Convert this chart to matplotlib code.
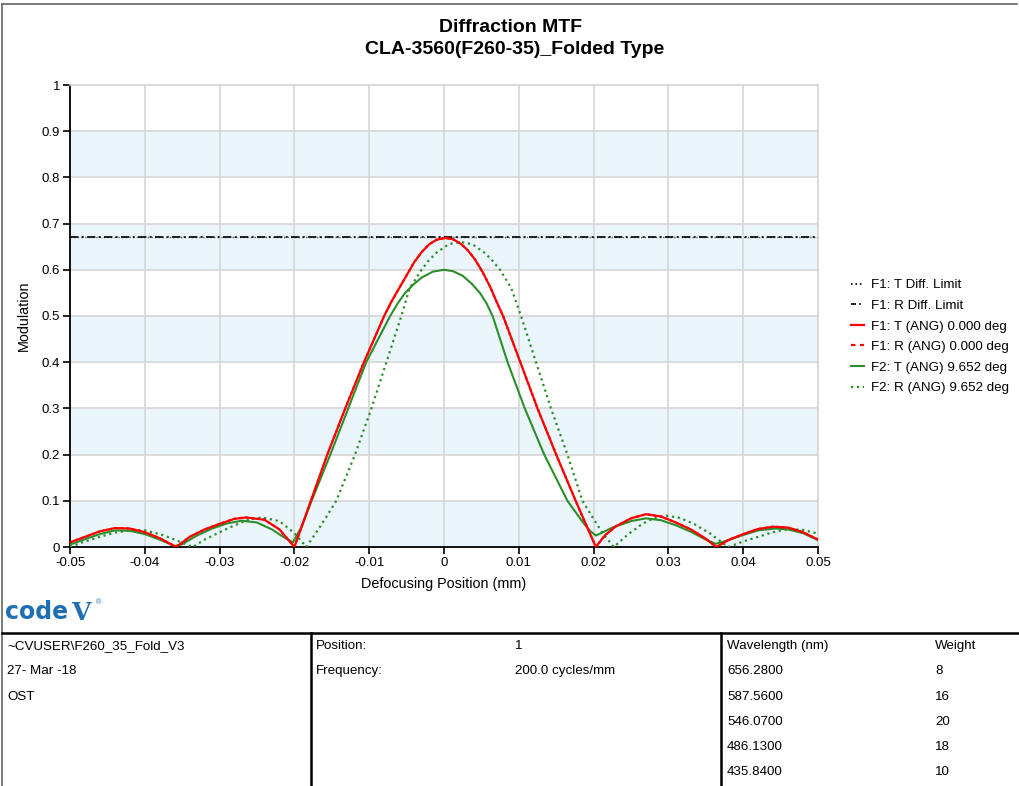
import matplotlib.pyplot as plt
import matplotlib.lines as mlines

plt.rcParams['font.family'] = ['Liberation Sans', 'DejaVu Sans']

#* chart data
titleLines = ["Diffraction MTF", "CLA-3560(F260-35)_Folded Type"]

diffLimitX = [-0.05, 0.05]
diffLimitT = [0.672, 0.672]
diffLimitR = [0.672, 0.672]

f1X = [-0.050, -0.048, -0.046, -0.044, -0.042, -0.040, -0.038, -0.0358,
       -0.034, -0.032, -0.030, -0.028, -0.0265, -0.024, -0.022, -0.0200,
       -0.0178, -0.0156, -0.0132, -0.0107, -0.0080, -0.0070, -0.0060,
       -0.0050, -0.0040, -0.0030, -0.0020, -0.0010, 0.0002, 0.0012, 0.0022,
       0.0032, 0.0042, 0.0052, 0.0062, 0.0070, 0.0079,
       0.0102, 0.0125, 0.0150, 0.0176, 0.0203, 0.0215, 0.0230, 0.0250,
       0.0270, 0.0290, 0.0310, 0.0330, 0.0350, 0.0364, 0.0380, 0.0400,
       0.0420, 0.0440, 0.0460, 0.0480, 0.0500]
f1T = [0.010, 0.022, 0.034, 0.041, 0.040, 0.032, 0.019, 0.000,
       0.022, 0.038, 0.050, 0.061, 0.064, 0.059, 0.038, 0.000,
       0.100, 0.200, 0.300, 0.400, 0.500, 0.532, 0.560,
       0.588, 0.616, 0.638, 0.655, 0.665, 0.669, 0.666, 0.657,
       0.642, 0.621, 0.594, 0.562, 0.532, 0.500,
       0.400, 0.300, 0.200, 0.100, 0.000, 0.025, 0.045, 0.062,
       0.071, 0.066, 0.053, 0.038, 0.018, 0.000, 0.015, 0.028,
       0.039, 0.044, 0.042, 0.032, 0.016]
f1R = [0.010, 0.022, 0.034, 0.041, 0.040, 0.032, 0.019, 0.000,
       0.022, 0.038, 0.050, 0.061, 0.064, 0.059, 0.038, 0.000,
       0.100, 0.200, 0.300, 0.400, 0.500, 0.532, 0.560,
       0.588, 0.616, 0.638, 0.655, 0.665, 0.669, 0.666, 0.657,
       0.642, 0.621, 0.594, 0.562, 0.532, 0.500,
       0.400, 0.300, 0.200, 0.100, 0.000, 0.025, 0.045, 0.062,
       0.071, 0.066, 0.053, 0.038, 0.018, 0.000, 0.015, 0.028,
       0.039, 0.044, 0.042, 0.032, 0.016]

f2TX = [-0.050, -0.048, -0.046, -0.044, -0.042, -0.040, -0.038, -0.036,
        -0.035, -0.033, -0.031, -0.029, -0.027, -0.025, -0.023, -0.0215,
        -0.0202, -0.0190, -0.0177, -0.0152, -0.0128, -0.0104, -0.0072,
        -0.0062, -0.0052, -0.0041, -0.0030, -0.0015, 0.0000, 0.0012, 0.0025,
        0.0037, 0.0048, 0.0057, 0.0065, 0.0085, 0.0108,
        0.0134, 0.0165, 0.0185, 0.0195, 0.0203, 0.0210, 0.0225, 0.0250,
        0.0270, 0.0290, 0.0310, 0.0330, 0.0350, 0.0363, 0.0375, 0.0400,
        0.0420, 0.0443, 0.0460, 0.0480, 0.0500]
f2T = [0.005, 0.017, 0.028, 0.036, 0.035, 0.028, 0.016, 0.002,
       0.006, 0.025, 0.040, 0.051, 0.057, 0.053, 0.038, 0.022,
       0.010, 0.045, 0.100, 0.200, 0.300, 0.400, 0.500,
       0.527, 0.550, 0.568, 0.583, 0.596, 0.600, 0.597, 0.587,
       0.570, 0.550, 0.527, 0.500, 0.400, 0.300,
       0.200, 0.100, 0.055, 0.035, 0.025, 0.030, 0.042, 0.056,
       0.062, 0.058, 0.047, 0.033, 0.016, 0.007, 0.012, 0.026,
       0.036, 0.040, 0.038, 0.030, 0.015]

f2RX = [-0.050, -0.048, -0.046, -0.044, -0.042, -0.040, -0.038, -0.036,
        -0.0336, -0.032, -0.030, -0.028, -0.026, -0.0243, -0.022, -0.020,
        -0.0184, -0.0164, -0.0144, -0.0119, -0.0097, -0.0077, -0.0057,
        -0.0046, -0.0030, -0.0020, -0.0010, 0.0005, 0.0013, 0.0022, 0.0031,
        0.0040, 0.0055, 0.0064, 0.0075, 0.0090, 0.0103,
        0.0123, 0.0143, 0.0165, 0.0185, 0.0198, 0.0212,
        0.0227, 0.0245, 0.0265, 0.0280, 0.0296, 0.0315, 0.0333, 0.0355,
        0.0380, 0.0400, 0.0420, 0.0440, 0.0460, 0.0480, 0.0500]
f2R = [0.000, 0.012, 0.022, 0.031, 0.036, 0.036, 0.028, 0.016,
       0.000, 0.016, 0.032, 0.047, 0.060, 0.064, 0.056, 0.030,
       0.000, 0.048, 0.100, 0.200, 0.300, 0.400, 0.500,
       0.560, 0.600, 0.621, 0.637, 0.654, 0.658, 0.660, 0.658,
       0.653, 0.636, 0.621, 0.600, 0.560, 0.500,
       0.400, 0.300, 0.200, 0.100, 0.066, 0.030,
       0.000, 0.026, 0.050, 0.062, 0.068, 0.063, 0.051, 0.030,
       0.000, 0.012, 0.022, 0.032, 0.039, 0.037, 0.029]

seriesLabels = ["F1: T Diff. Limit", "F1: R Diff. Limit",
                "F1: T (ANG) 0.000 deg", "F1: R (ANG) 0.000 deg",
                "F2: T (ANG) 9.652 deg", "F2: R (ANG) 9.652 deg"]

xTicks = [-0.05, -0.04, -0.03, -0.02, -0.01, 0, 0.01, 0.02, 0.03, 0.04, 0.05]
xTickLabels = ["-0.05", "-0.04", "-0.03", "-0.02", "-0.01", "0",
               "0.01", "0.02", "0.03", "0.04", "0.05"]
yTicks = [0, 0.1, 0.2, 0.3, 0.4, 0.5, 0.6, 0.7, 0.8, 0.9, 1]
yTickLabels = ["0", "0.1", "0.2", "0.3", "0.4", "0.5", "0.6", "0.7", "0.8", "0.9", "1"]

infoCol1 = ["~CVUSER\\F260_35_Fold_V3", "27- Mar -18", "OST"]
infoCol2Keys = ["Position:", "Frequency:"]
infoCol2Vals = ["1", "200.0 cycles/mm"]
wavelengths = ["656.2800", "587.5600", "546.0700", "486.1300", "435.8400"]
weights = ["8", "16", "20", "18", "10"]

RED = "#ff0000"
GREEN = "#2a8f2a"
BAND = "#ebf5fc"
GRID = "#d6d6d6"
LOGO = "#1f6fb5"

W, H = 1019, 786
fig = plt.figure(figsize=(W / 100, H / 100), dpi=100)

def fx(px):
    return px / W

def fy(py):
    return 1 - py / H

ax = fig.add_axes([fx(70), fy(547), fx(818) - fx(70), fy(85) - fy(547)])
ax.set_xlim(-0.05, 0.05)
ax.set_ylim(0, 1)

#* alternating light blue bands
for i in range(0, 10, 2):
    ax.axhspan(yTicks[i], yTicks[i + 1], color=BAND, zorder=0, lw=0)

ax.set_xticks(xTicks)
ax.set_xticklabels(xTickLabels)
ax.set_yticks(yTicks)
ax.set_yticklabels(yTickLabels)
ax.grid(True, color=GRID, lw=1.2, zorder=1)
ax.set_axisbelow(True)
ax.tick_params(direction='out', length=5, width=1.2, labelsize=9.5, colors='black', pad=2)

for s in ['top', 'right']:
    ax.spines[s].set_color(GRID)
    ax.spines[s].set_linewidth(1.2)
for s in ['left', 'bottom']:
    ax.spines[s].set_color('black')
    ax.spines[s].set_linewidth(1.3)

ax.plot(diffLimitX, diffLimitT, color='black', ls=':', lw=1.0, zorder=3, alpha=0.6)
ax.plot(diffLimitX, diffLimitR, color='black', ls=(0, (5, 2, 1.2, 2)), lw=1.2, zorder=3)
ax.plot(f2RX, f2R, color=GREEN, ls=':', lw=1.6, zorder=4)
ax.plot(f2TX, f2T, color=GREEN, ls='-', lw=1.5, zorder=5)
ax.plot(f1X, f1T, color=RED, ls='-', lw=1.6, zorder=6)
ax.plot(f1X, f1R, color=RED, ls=':', lw=1.6, zorder=7)

ax.set_xlabel("Defocusing Position (mm)", fontsize=10.4, labelpad=6)
ax.set_ylabel("Modulation", fontsize=10.4, labelpad=8)

fig.text(fx(511), fy(28), titleLines[0], ha='center', va='center', fontsize=14, fontweight='bold')
fig.text(fx(515), fy(49), titleLines[1], ha='center', va='center', fontsize=14, fontweight='bold')

#* legend
handles = [
    mlines.Line2D([], [], color='black', ls=':', lw=1.2),
    mlines.Line2D([], [], color='black', ls=(0, (3, 2, 1, 2)), lw=1.2),
    mlines.Line2D([], [], color=RED, ls='-', lw=1.6),
    mlines.Line2D([], [], color=RED, ls=(0, (2, 2)), lw=1.6),
    mlines.Line2D([], [], color=GREEN, ls='-', lw=1.5),
    mlines.Line2D([], [], color=GREEN, ls=':', lw=1.6),
]
fig.legend(handles, seriesLabels, loc='upper left', bbox_to_anchor=(fx(851), fy(279)),
           frameon=False, fontsize=9.6, handlelength=1.0, handletextpad=0.5,
           labelspacing=0.62, borderaxespad=0, borderpad=0)

#* page frame and info table
lineArtist = fig.add_artist
lineArtist(mlines.Line2D([fx(2), fx(1017)], [fy(4), fy(4)], color='#666666', lw=1.2))
lineArtist(mlines.Line2D([fx(2), fx(2)], [fy(4), fy(786)], color='#666666', lw=1.2))
lineArtist(mlines.Line2D([fx(2), fx(1019)], [fy(633), fy(633)], color='black', lw=1.8))
lineArtist(mlines.Line2D([fx(311), fx(311)], [fy(633), fy(786)], color='black', lw=1.8))
lineArtist(mlines.Line2D([fx(721), fx(721)], [fy(633), fy(786)], color='black', lw=1.8))

fig.text(fx(5), fy(612), "code", color=LOGO, fontsize=17, fontweight='heavy',
         family='DejaVu Sans', va='center', ha='left')
fig.text(fx(71), fy(613), "V", color=LOGO, fontsize=18, fontweight='heavy',
         family='DejaVu Serif', va='center', ha='left')
fig.text(fx(96), fy(603), "\u00ae", color=LOGO, fontsize=5, va='center', ha='left')

rowY = [646, 671, 697, 722, 747, 772]
for i, t in enumerate(infoCol1):
    fig.text(fx(7), fy(rowY[i]), t, fontsize=9.6, va='center')
for i, t in enumerate(infoCol2Keys):
    fig.text(fx(316), fy(rowY[i]), t, fontsize=9.6, va='center')
    fig.text(fx(515), fy(rowY[i]), infoCol2Vals[i], fontsize=9.6, va='center')
fig.text(fx(727), fy(rowY[0]), "Wavelength (nm)", fontsize=9.6, va='center')
fig.text(fx(935), fy(rowY[0]), "Weight", fontsize=9.6, va='center')
for i, (wl, wt) in enumerate(zip(wavelengths, weights)):
    fig.text(fx(727), fy(rowY[i + 1]), wl, fontsize=9.6, va='center')
    fig.text(fx(935), fy(rowY[i + 1]), wt, fontsize=9.6, va='center')

fig.savefig("out.png", dpi=100)
